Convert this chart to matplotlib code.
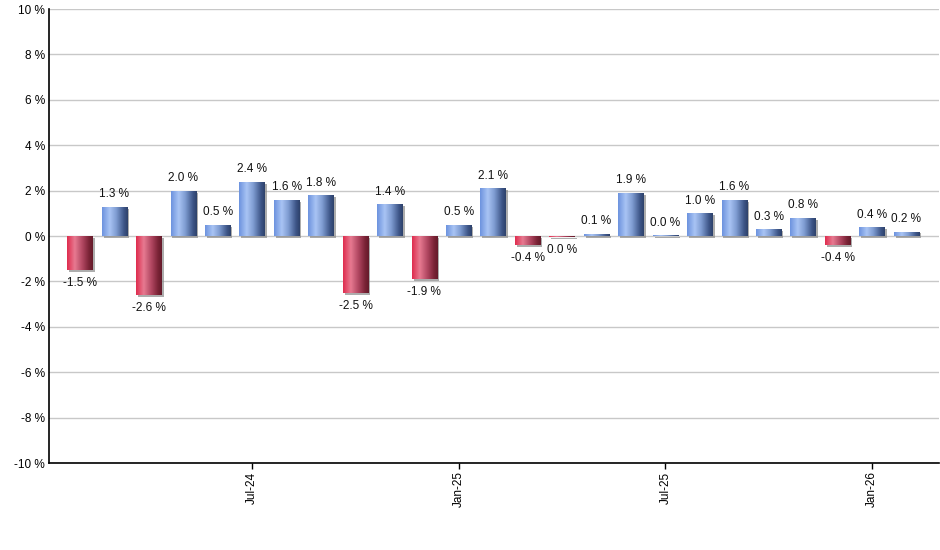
import matplotlib
matplotlib.use("Agg")
import matplotlib.pyplot as plt
import numpy as np
from matplotlib.colors import LinearSegmentedColormap
import matplotlib.patheffects as pe

plt.rcParams['font.family'] = ['Liberation Sans', 'DejaVu Sans']

months = ["Feb-24", "Mar-24", "Apr-24", "May-24", "Jun-24", "Jul-24", "Aug-24", "Sep-24",
          "Oct-24", "Nov-24", "Dec-24", "Jan-25", "Feb-25", "Mar-25", "Apr-25", "May-25",
          "Jun-25", "Jul-25", "Aug-25", "Sep-25", "Oct-25", "Nov-25", "Dec-25", "Jan-26", "Feb-26"]
values = [-1.5, 1.3, -2.6, 2.0, 0.5, 2.4, 1.6, 1.8, -2.5, 1.4, -1.9, 0.5, 2.1, -0.4, -0.04,
          0.1, 1.9, 0.03, 1.0, 1.6, 0.3, 0.8, -0.4, 0.4, 0.2]
tick_labels = ["Jul-24", "Jan-25", "Jul-25", "Jan-26"]
y_ticks = [-10, -8, -6, -4, -2, 0, 2, 4, 6, 8, 10]

blue_cmap = LinearSegmentedColormap.from_list(
    "b", [(0, "#6c92de"), (0.3, "#a9c4f4"), (0.55, "#7f9dd2"), (0.85, "#3d5587"), (1, "#2d416a")])
red_cmap = LinearSegmentedColormap.from_list(
    "r", [(0, "#df2b4d"), (0.3, "#e77a91"), (0.6, "#b04660"), (0.85, "#7a2336"), (1, "#641a2a")])

fig = plt.figure(figsize=(9.4, 5.5), dpi=100)
ax = fig.add_axes([0.0521, 0.158, 0.947, 0.8255])

x = np.arange(len(values))
width = 0.74
bars = ax.bar(x, values, width=width, color='none', edgecolor='none', zorder=2)
grad = np.linspace(0, 1, 256).reshape(1, -1)
for xi, v, p in zip(x, values, bars.patches):
    p.set_path_effects([pe.SimplePatchShadow(offset=(1.4, -1.4), shadow_rgbFace='#8a8a8a', alpha=0.7)])
    cmap = blue_cmap if v >= 0 else red_cmap
    y0, y1 = (0, v) if v >= 0 else (v, 0)
    im = ax.imshow(grad, extent=[xi - width / 2, xi + width / 2, y0, y1], aspect='auto',
                   cmap=cmap, zorder=3, interpolation='bilinear')
    im.set_clip_path(p)
    label = f"{abs(v):.1f} %" if round(v, 1) == 0 else f"{v:.1f} %"
    if v >= 0:
        ax.annotate(label, (xi, v), xytext=(0, 9), textcoords='offset points',
                    ha='center', va='center', fontsize=8.5, color='#111111')
    else:
        ax.annotate(label, (xi, v), xytext=(0, -9.5), textcoords='offset points',
                    ha='center', va='center', fontsize=8.5, color='#111111')

ax.set_xlim(-0.9, 24.95)
ax.set_ylim(-10, 10)
ax.set_yticks(y_ticks)
ax.set_yticklabels([f"{t} %" for t in y_ticks], fontsize=8.5)
ax.tick_params(axis='y', length=0, pad=3)
tick_pos = [months.index(t) for t in tick_labels]
ax.set_xticks(tick_pos)
ax.set_xticklabels(tick_labels, rotation=90, fontsize=8.5)
ax.tick_params(axis='x', length=4, width=1, pad=2, direction='out')
ax.grid(axis='y', color='#c8c8c8', linewidth=1, zorder=0)
ax.set_axisbelow(True)
for s in ['top', 'right']:
    ax.spines[s].set_visible(False)
for s in ['left', 'bottom']:
    ax.spines[s].set_color('black')
    ax.spines[s].set_linewidth(1.2)

fig.savefig("out.png", dpi=100)
